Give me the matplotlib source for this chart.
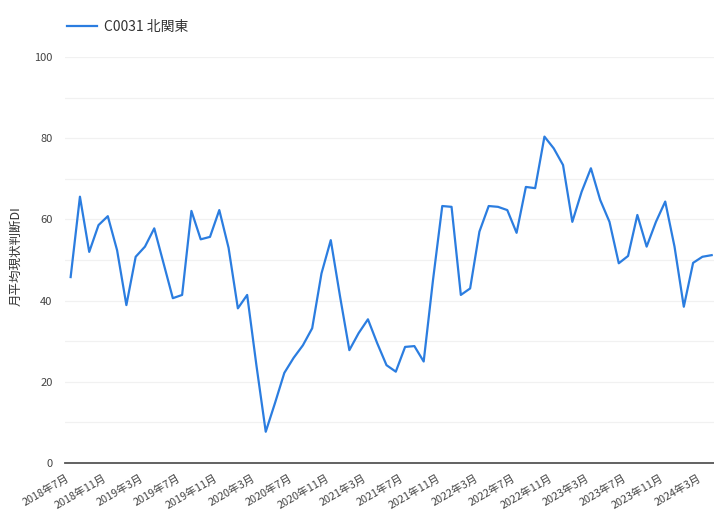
import matplotlib
matplotlib.use("Agg")
import matplotlib.pyplot as plt
import matplotlib.transforms as mtransforms
import numpy as np

plt.rcParams['font.family'] = ['Noto Sans CJK JP', 'DejaVu Sans']

series_name = "C0031 北関東"
y_label = "月平均現状判断DI"

# Monthly values, 2018-07 .. 2024-04
years = [2018]*6 + [2019]*12 + [2020]*12 + [2021]*12 + [2022]*12 + [2023]*12 + [2024]*4
months = list(range(7, 13)) + list(range(1, 13))*5 + list(range(1, 5))
values = [
    45.8, 65.6, 52.0, 58.6, 60.8, 52.4,
    38.9, 50.8, 53.3, 57.8, 49.2, 40.6, 41.4, 62.1, 55.1, 55.7, 62.3, 53.0,
    38.1, 41.4, 24.0, 7.7, 14.8, 22.2, 25.9, 29.0, 33.2, 46.7, 54.9, 41.0,
    27.8, 32.0, 35.4, 29.5, 24.1, 22.5, 28.6, 28.8, 25.0, 45.0, 63.3, 63.1,
    41.4, 43.0, 57.0, 63.3, 63.1, 62.3, 56.7, 68.0, 67.7, 80.4, 77.5, 73.4,
    59.4, 66.8, 72.6, 64.8, 59.4, 49.2, 51.0, 61.1, 53.3, 59.4, 64.4, 53.3,
    38.5, 49.3, 50.8, 51.2,
]
labels = [f"{y}年{m}月" for y, m in zip(years, months)]

fig = plt.figure(figsize=(7.14, 5.17), dpi=100)
ax = fig.add_axes([0.091, 0.1044, 0.909, 0.7853])

x = np.arange(len(values))
ax.plot(x, values, color='#2b7de0', lw=1.6, label=series_name, solid_joinstyle='round')

ax.set_xlim(-0.61, len(values) - 1 + 0.25)
ax.set_ylim(0, 100)

# faint horizontal grid every 10
for gy in range(10, 101, 10):
    ax.axhline(gy, color='#f1f1f1', lw=0.9, zorder=0)

ax.set_yticks(range(0, 101, 20))
ax.tick_params(axis='y', length=0, labelsize=8, labelcolor='#444444', pad=9)

tick_idx = list(range(0, len(values), 4))
ax.set_xticks(tick_idx)
ax.set_xticklabels([labels[i] for i in tick_idx], rotation=30, ha='right',
                   rotation_mode='anchor', fontsize=7.8, color='#444444')
ax.tick_params(axis='x', length=0, pad=7)
shift = mtransforms.ScaledTranslation(-5 / 100, 0, fig.dpi_scale_trans)
for lbl in ax.get_xticklabels():
    lbl.set_transform(lbl.get_transform() + shift)

for s in ['top', 'right', 'left']:
    ax.spines[s].set_visible(False)
ax.spines['bottom'].set_color('#555555')
ax.spines['bottom'].set_linewidth(1.3)

fig.text(0.022, 0.505, y_label, rotation=90, ha='center', va='center',
         fontsize=9, color='#333333')

leg = fig.legend(loc='upper left', bbox_to_anchor=(0.076, 0.985), frameon=False,
                 fontsize=10, handlelength=2.2, handletextpad=0.5)
for t in leg.get_texts():
    t.set_color('#333333')

fig.savefig("out.png", dpi=100)
